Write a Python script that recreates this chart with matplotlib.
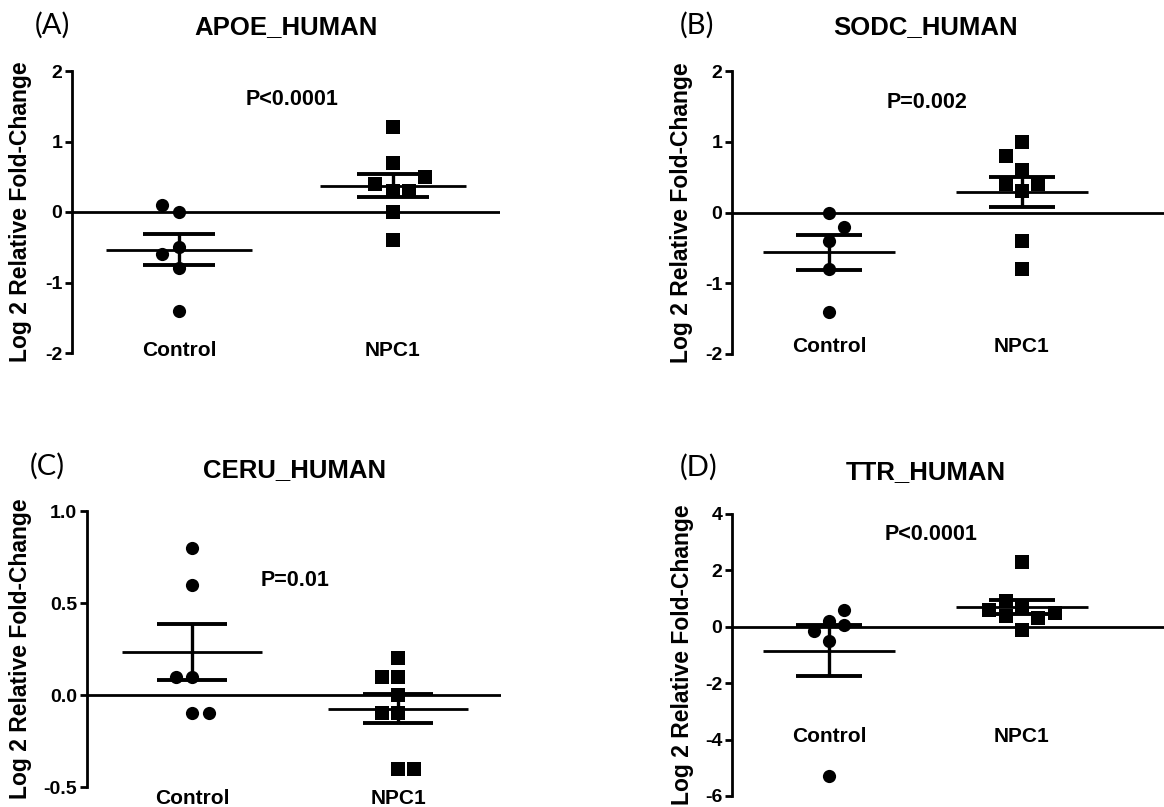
import numpy as np
import matplotlib
matplotlib.use("Agg")
import matplotlib.pyplot as plt

plt.rcParams['font.family'] = ['Liberation Sans', 'DejaVu Sans']
plt.rcParams['font.weight'] = 'bold'

# ── Data (log2 relative fold-change per sample) ───────────
groups = ["Control", "NPC1"]

apoe_control = [0.1, 0.0, -0.5, -0.6, -0.8, -1.4]
apoe_npc1 = [1.2, 0.7, 0.5, 0.4, 0.3, 0.3, 0.0, -0.4]

sodc_control = [0.0, -0.2, -0.4, -0.8, -1.4]
sodc_npc1 = [1.0, 0.8, 0.6, 0.4, 0.4, 0.3, -0.4, -0.8]

ceru_control = [0.8, 0.6, 0.1, 0.1, -0.1, -0.1]
ceru_npc1 = [0.2, 0.1, 0.1, 0.0, -0.1, -0.1, -0.4, -0.4]

ttr_control = [0.6, 0.2, 0.05, -0.15, -0.5, -5.3]
ttr_npc1 = [2.3, 0.9, 0.7, 0.6, 0.5, 0.4, 0.3, -0.1]

titles = ["APOE_HUMAN", "SODC_HUMAN", "CERU_HUMAN", "TTR_HUMAN"]
letters = ["(A)", "(B)", "(C)", "(D)"]
p_texts = ["P<0.0001", "P=0.002", "P=0.01", "P<0.0001"]

apoe_ticks = [-2, -1, 0, 1, 2]
sodc_ticks = [-2, -1, 0, 1, 2]
ceru_ticks = [-0.5, 0.0, 0.5, 1.0]
ttr_ticks = [-6, -4, -2, 0, 2, 4]

# ── Layout (horizontal scatter offsets where points overlap, positions) ──
apoe_dx = ([-0.08, 0, 0, -0.08, 0, 0], [0, 0, 0.15, -0.085, 0, 0.075, 0, 0])
sodc_dx = ([0, 0.08, 0, 0, 0], [0, -0.085, 0, -0.085, 0.085, 0, 0, 0])
ceru_dx = ([0, 0, -0.08, 0, 0, 0.08], [0, -0.08, 0, 0, -0.08, 0, 0, 0.08])
ttr_dx = ([0.08, 0, 0.08, -0.08, 0, 0], [0, -0.085, 0, -0.17, 0.17, -0.085, 0.085, 0])

W, H = 1164, 807
panels = [
    dict(d=(apoe_control, apoe_npc1), dx=apoe_dx, ticks=apoe_ticks, fmt="{:g}",
         ylim=(-2, 2), xlim=(-0.5, 1.5), box=(72, 500, 71, 353),
         p=(0.53, 1.59), laby=-1.96, ylx=-0.093, title_y=27, letter=(52, 25)),
    dict(d=(sodc_control, sodc_npc1), dx=sodc_dx, ticks=sodc_ticks, fmt="{:g}",
         ylim=(-2, 2), xlim=(-0.503, 1.736), box=(732, 1164, 71, 354),
         p=(0.51, 1.55), laby=-1.89, ylx=-0.09, title_y=27, letter=(697, 25)),
    dict(d=(ceru_control, ceru_npc1), dx=ceru_dx, ticks=ceru_ticks, fmt="{:.1f}",
         ylim=(-0.5, 1.0), xlim=(-0.51, 1.5), box=(87, 501, 511, 787),
         p=(0.5, 0.625), laby=-0.565, ylx=-0.133, title_y=470, letter=(47, 466)),
    dict(d=(ttr_control, ttr_npc1), dx=ttr_dx, ticks=ttr_ticks, fmt="{:g}",
         ylim=(-6, 4), xlim=(-0.503, 1.736), box=(732, 1164, 514, 796),
         p=(0.53, 3.26), laby=-3.9, ylx=-0.088, title_y=472, letter=(699, 467)),
]

fig = plt.figure(figsize=(W / 100, H / 100), dpi=100)
markers = ["o", "s"]

for i, pn in enumerate(panels):
    l, r, t, b = pn["box"]
    ax = fig.add_axes([l / W, 1 - b / H, (r - l) / W, (b - t) / H])
    ax.set_xlim(*pn["xlim"])
    ax.set_ylim(*pn["ylim"])

    for gi, (vals, dx) in enumerate(zip(pn["d"], pn["dx"])):
        v = np.array(vals)
        ax.plot(gi + np.array(dx), v, markers[gi], color="black", ms=9.5,
                mew=0, zorder=2, clip_on=False)
        m = v.mean()
        sem = v.std(ddof=1) / np.sqrt(len(v))
        ax.hlines(m, gi - 0.34, gi + 0.34, color="black", lw=2.0, zorder=3)
        ax.hlines([m - sem, m + sem], gi - 0.17, gi + 0.17, color="black", lw=2.8, zorder=3)
        ax.vlines(gi, m - sem, m + sem, color="black", lw=2.4, zorder=3)
        ax.text(gi, pn["laby"], groups[gi], ha="center", va="center",
                fontsize=15, fontweight="bold")

    ax.axhline(0, color="black", lw=2.0, zorder=1)

    for s in ["top", "right", "bottom"]:
        ax.spines[s].set_visible(False)
    ax.spines["left"].set_linewidth(2.0)
    ax.set_xticks([])
    ax.set_yticks(pn["ticks"])
    ax.set_yticklabels([pn["fmt"].format(v) for v in pn["ticks"]],
                       fontsize=14, fontweight="bold")
    ax.tick_params(axis="y", direction="out", length=5, width=2.0, pad=2)
    ax.set_ylabel("Log 2 Relative Fold-Change", fontsize=16.5, fontweight="bold")
    ax.yaxis.set_label_coords(pn["ylx"], 0.5)

    ax.text(pn["p"][0], pn["p"][1], p_texts[i], ha="center", va="center",
            fontsize=15.5, fontweight="bold")

    cx = l + (0.5 - pn["xlim"][0]) / (pn["xlim"][1] - pn["xlim"][0]) * (r - l)
    fig.text(cx / W, 1 - pn["title_y"] / H, titles[i], ha="center", va="center",
             fontsize=18.5, fontweight="bold")
    fig.text(pn["letter"][0] / W, 1 - pn["letter"][1] / H, letters[i],
             ha="center", va="center", fontsize=21, fontweight="normal",
             family=["Lato", "DejaVu Sans"])

fig.savefig("out.png", dpi=100)
